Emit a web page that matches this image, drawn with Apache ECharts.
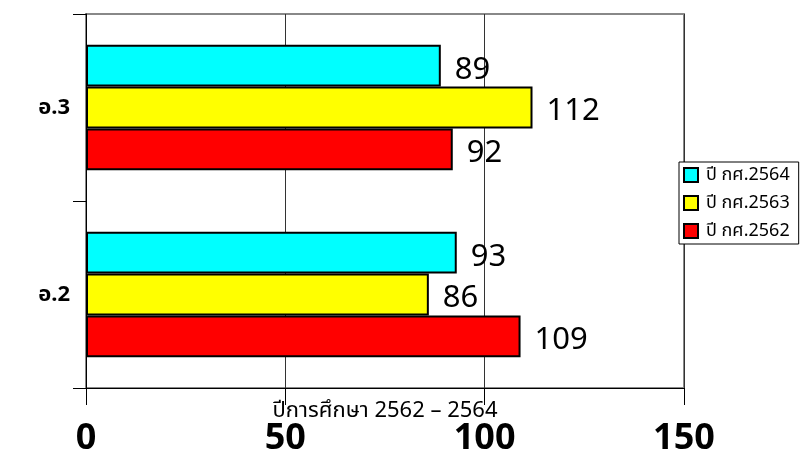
<!DOCTYPE html>
<html><head><meta charset="utf-8">
<script src="https://cdn.jsdelivr.net/npm/echarts@6/dist/echarts.min.js"></script>
<style>html,body{margin:0;padding:0;background:#fff}#c{width:805px;height:468px}</style>
</head><body><div id="c"></div>
<script>
const categories = ['อ.2', 'อ.3'];
const seriesNames = ['ปี กศ.2564', 'ปี กศ.2563', 'ปี กศ.2562'];
const values2564 = [93, 89];
const values2563 = [86, 112];
const values2562 = [109, 92];
const xTicks = [0, 50, 100, 150];
const colors = ['#00ffff', '#ffff00', '#ff0000'];
const font = '"Noto Sans", "Noto Sans Thai", sans-serif';

const dataSets = [values2564, values2563, values2562];
const chart = echarts.init(document.getElementById('c'));
chart.setOption({
  animation: false,
  textStyle: { fontFamily: font },
  grid: { left: 86, right: 121, top: 14, bottom: 80, show: true, borderColor: '#888', borderWidth: 2,
    outerBoundsMode: 'none', containLabel: false },
  legend: {
    data: seriesNames,
    orient: 'vertical', left: 679, top: 162,
    backgroundColor: '#fff', borderColor: '#000', borderWidth: 1,
    padding: [4, 9, 4, 4], itemGap: 10, itemWidth: 14, itemHeight: 14, icon: 'rect',
    textStyle: { fontSize: 18, color: '#000', fontFamily: font, padding: [0, 0, 0, 3] }
  },
  xAxis: {
    type: 'value', min: 0, max: 150, interval: 50,
    name: 'ปีการศึกษา 2562 – 2564', nameLocation: 'middle', nameGap: 12, nameMoveOverlap: false,
    nameTextStyle: { fontSize: 22, color: '#000', fontFamily: font },
    axisLine: { show: true, lineStyle: { color: '#000', width: 1 } },
    axisTick: { show: true, length: 17, lineStyle: { color: '#000' } },
    axisLabel: { fontSize: 36, fontWeight: 'bold', color: '#000', margin: 33,
      formatter: v => xTicks.includes(v) ? String(v) : '' },
    splitLine: { show: true, lineStyle: { color: '#333', width: 1 } }
  },
  yAxis: {
    type: 'category', data: categories, inverse: false,
    axisLine: { show: true, lineStyle: { color: '#000', width: 1 } },
    axisTick: { show: true, length: 13, lineStyle: { color: '#000' } },
    axisLabel: { fontSize: 22, fontWeight: 'bold', color: '#000', margin: 16, padding: [8, 0, 0, 0] }
  },
  series: dataSets.map((d, i) => ({
    name: seriesNames[i], type: 'bar', data: d,
    barGap: '0%', barCategoryGap: '33%',
    itemStyle: { color: colors[i], borderColor: '#000', borderWidth: 2 },
    label: { show: true, position: 'right', distance: 14, offset: [0, 4],
      fontSize: 31, color: '#000', fontFamily: font }
  }))
});
</script></body></html>
